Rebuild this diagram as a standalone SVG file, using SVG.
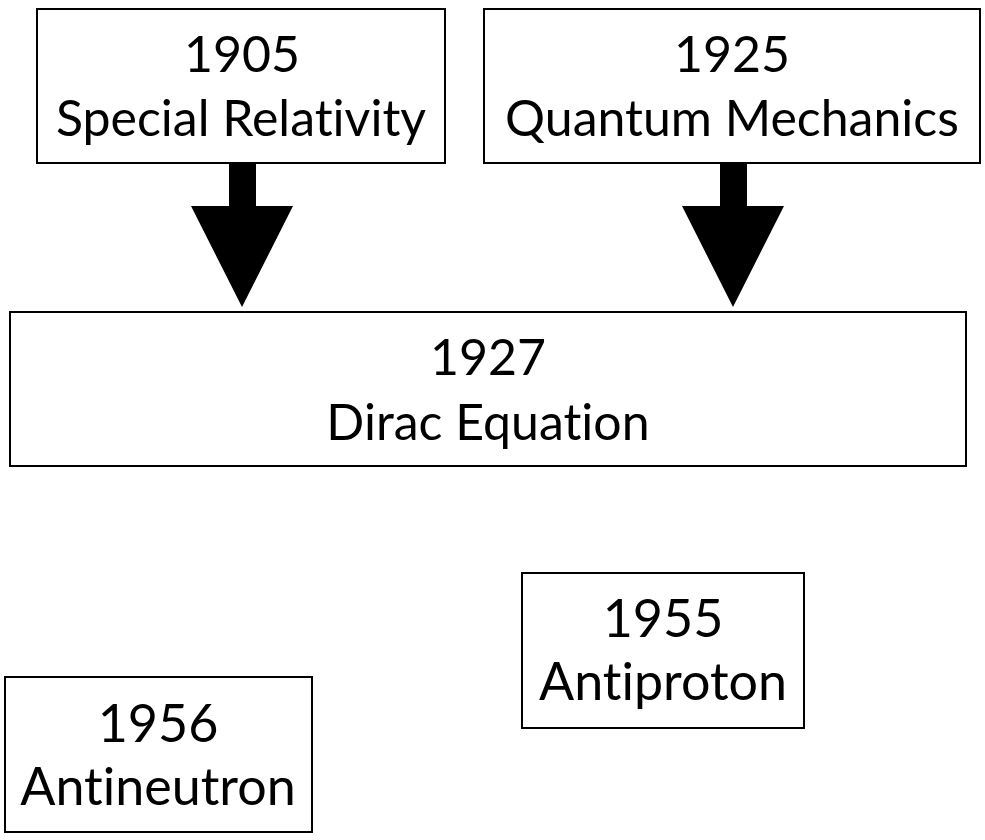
<svg xmlns="http://www.w3.org/2000/svg" width="985" height="840" viewBox="0 0 985 840">
<style>
.box{fill:#fff;stroke:#000;stroke-width:2}
.t{font-family:Lato,"Open Sans","Liberation Sans",sans-serif;font-size:50px;fill:#000;text-anchor:middle;font-variant-ligatures:none}
.s{font-size:52px}
.arr{fill:#000;stroke:none}
</style>
<rect width="985" height="840" fill="#fff"/>
<g id="connectors">
<polygon class="arr" points="229,163 256,163 256,206 293,206 242,307 191,206 229,206"/>
<polygon class="arr" points="720,163 747,163 747,206 784,206 733,307 682,206 720,206"/>
</g>
<g id="n1905">
<rect class="box" x="37" y="9" width="408" height="154"/>
<text class="t" x="242" y="72">1905</text>
<text class="t" x="241" y="136">Special Relativity</text>
</g>
<g id="n1925">
<rect class="box" x="484" y="9" width="496" height="154"/>
<text class="t" x="732" y="72">1925</text>
<text class="t" x="732" y="136">Quantum Mechanics</text>
</g>
<g id="n1927">
<rect class="box" x="10" y="312" width="956" height="154"/>
<text class="t" x="488" y="375">1927</text>
<text class="t" x="488" y="440">Dirac Equation</text>
</g>
<g id="n1955">
<rect class="box" x="522" y="573" width="282" height="155"/>
<text class="t s" x="663" y="637">1955</text>
<text class="t s" x="663" y="700">Antiproton</text>
</g>
<g id="n1956">
<rect class="box" x="5" y="677" width="307" height="155"/>
<text class="t s" x="158" y="742">1956</text>
<text class="t s" x="158" y="805">Antineutron</text>
</g>
</svg>
